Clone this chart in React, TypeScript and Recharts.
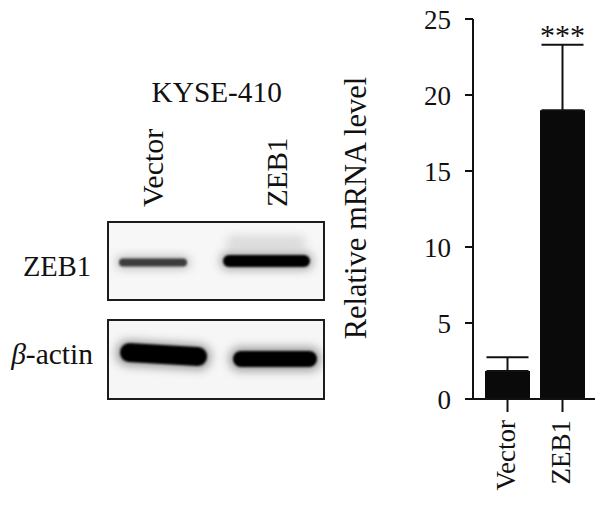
import React from 'react';
import { BarChart, Bar, XAxis, YAxis, ErrorBar, ReferenceDot, Label } from 'recharts';

const categories = ['Vector', 'ZEB1'];
const meanValues = [1.84, 19.0];
const upperErrors = [0.9, 4.3];
const yTicks = [0, 5, 10, 15, 20, 25];
const significance = '***';
const yAxisTitle = 'Relative mRNA level';
const blotTitle = 'KYSE-410';
const laneLabels = ['Vector', 'ZEB1'];
const rowLabels = ['ZEB1', '-actin'];

const data = categories.map((c, i) => ({ name: c, value: meanValues[i], err: [0, upperErrors[i]] }));

const FONT = '"Liberation Serif", "Times New Roman", serif';
const INK = '#111';

function XTick(props: any) {
  const { x, y, payload } = props;
  return (
    <text
      x={x}
      y={y}
      transform={`rotate(-90, ${x}, ${y})`}
      textAnchor="end"
      dy={7}
      fontSize={27}
      fontFamily={FONT}
      fill={INK}
    >
      {payload.value}
    </text>
  );
}

function YTitle(props: any) {
  const vb = props.viewBox ?? { x: 0, y: 19, width: 133, height: 380 };
  const cx = vb.x + 26;
  const cy = vb.y + vb.height / 2 - 1;
  return (
    <text
      x={cx}
      y={cy}
      transform={`rotate(-90, ${cx}, ${cy})`}
      textAnchor="middle"
      fontSize={30.5}
      fontFamily={FONT}
      fill={INK}
    >
      {yAxisTitle}
    </text>
  );
}

function Blot() {
  return (
    <svg width={340} height={507} style={{ position: 'absolute', left: 0, top: 0 }}>
      <defs>
        <filter id="bSharp" x="-20%" y="-150%" width="140%" height="400%">
          <feGaussianBlur stdDeviation="1.3" />
        </filter>
        <filter id="bHalo" x="-30%" y="-200%" width="160%" height="500%">
          <feGaussianBlur stdDeviation="5" />
        </filter>
        <clipPath id="clip1">
          <rect x={109} y={223} width={214} height={76} />
        </clipPath>
        <clipPath id="clip2">
          <rect x={109} y={321} width={214} height={77} />
        </clipPath>
      </defs>
      <text x={216.7} y={101.7} textAnchor="middle" fontSize={29.3} fontFamily={FONT} fill={INK}>
        {blotTitle}
      </text>
      <text x={163} y={207} transform="rotate(-90, 163, 207)" fontSize={30} fontFamily={FONT} fill={INK}>
        {laneLabels[0]}
      </text>
      <text x={287} y={207} transform="rotate(-90, 287, 207)" fontSize={29} fontFamily={FONT} fill={INK}>
        {laneLabels[1]}
      </text>
      <text x={91} y={276} textAnchor="end" fontSize={28.5} fontFamily={FONT} fill={INK}>
        {rowLabels[0]}
      </text>
      <text x={93} y={364} textAnchor="end" fontSize={29.5} fontFamily={FONT} fill={INK}>
        <tspan fontStyle="italic">β</tspan>
        {rowLabels[1]}
      </text>

      {/* ZEB1 row */}
      <rect x={108} y={222} width={216} height={78} fill="#f7f7f7" />
      <g clipPath="url(#clip1)">
        <rect x={226} y={236} width={80} height={12} rx={6} fill="#d8d8d8" filter="url(#bHalo)" />
        <rect x={116} y={256} width={74} height={13} rx={6} fill="#9a9a9a" opacity={0.6} filter="url(#bHalo)" />
        <rect x={119} y={258.5} width={68} height={8} rx={4} fill="#3c3c3c" filter="url(#bSharp)" />
        <rect x={220} y={252} width={93} height={18} rx={8} fill="#777" opacity={0.6} filter="url(#bHalo)" />
        <rect x={223} y={255} width={87} height={12} rx={6} fill="#050505" filter="url(#bSharp)" />
      </g>
      <rect x={108} y={222} width={216} height={78} fill="none" stroke="#1c1c1c" strokeWidth={2} />

      {/* beta-actin row */}
      <rect x={108} y={320} width={216} height={79} fill="#f6f6f6" />
      <g clipPath="url(#clip2)">
        <rect x={116} y={342} width={95} height={26} rx={12} fill="#666" opacity={0.6} filter="url(#bHalo)" transform="rotate(3.3, 163, 355)" />
        <rect x={120} y={345} width={87} height={19} rx={9} fill="#050505" filter="url(#bSharp)" transform="rotate(3.3, 163, 355)" />
        <rect x={229} y={347} width={92} height={24} rx={11} fill="#666" opacity={0.6} filter="url(#bHalo)" />
        <rect x={233} y={351} width={84} height={16} rx={8} fill="#050505" filter="url(#bSharp)" />
      </g>
      <rect x={108} y={320} width={216} height={79} fill="none" stroke="#1c1c1c" strokeWidth={2} />
    </svg>
  );
}

export default function App() {
  return (
    <div
      style={{
        position: 'absolute',
        left: 0,
        top: 0,
        width: 600,
        height: 507,
        background: '#fff',
        fontFamily: FONT,
        overflow: 'hidden',
      }}
    >
      <Blot />
      <div style={{ position: 'absolute', left: 340, top: 0 }}>
        <BarChart width={260} height={507} data={data} margin={{ top: 19, right: 5, bottom: 0, left: 0 }}>
          <XAxis
            dataKey="name"
            height={108}
            padding={{ left: 7, right: 5 }}
            tick={<XTick />}
            tickSize={13}
            tickMargin={8}
            interval={0}
            axisLine={{ stroke: INK, strokeWidth: 2 }}
            tickLine={{ stroke: INK, strokeWidth: 2 }}
          />
          <YAxis
            width={133}
            domain={[0, 25]}
            ticks={yTicks}
            interval={0}
            tickSize={8}
            tickMargin={14}
            axisLine={{ stroke: INK, strokeWidth: 2 }}
            tickLine={{ stroke: INK, strokeWidth: 2 }}
            tick={{ fontSize: 27, fontFamily: FONT, fill: INK }}
          >
            <Label content={<YTitle />} />
          </YAxis>
          <Bar dataKey="value" fill="#0a0a0a" barSize={45} isAnimationActive={false}>
            <ErrorBar dataKey="err" width={21} stroke={INK} strokeWidth={2} direction="y" />
          </Bar>
          <ReferenceDot
            x={categories[1]}
            y={meanValues[1] + upperErrors[1]}
            r={0}
            fill="none"
            stroke="none"
            label={{ value: significance, position: 'top', offset: 0, fontSize: 30, fill: INK, fontFamily: FONT }}
          />
        </BarChart>
      </div>
    </div>
  );
}
